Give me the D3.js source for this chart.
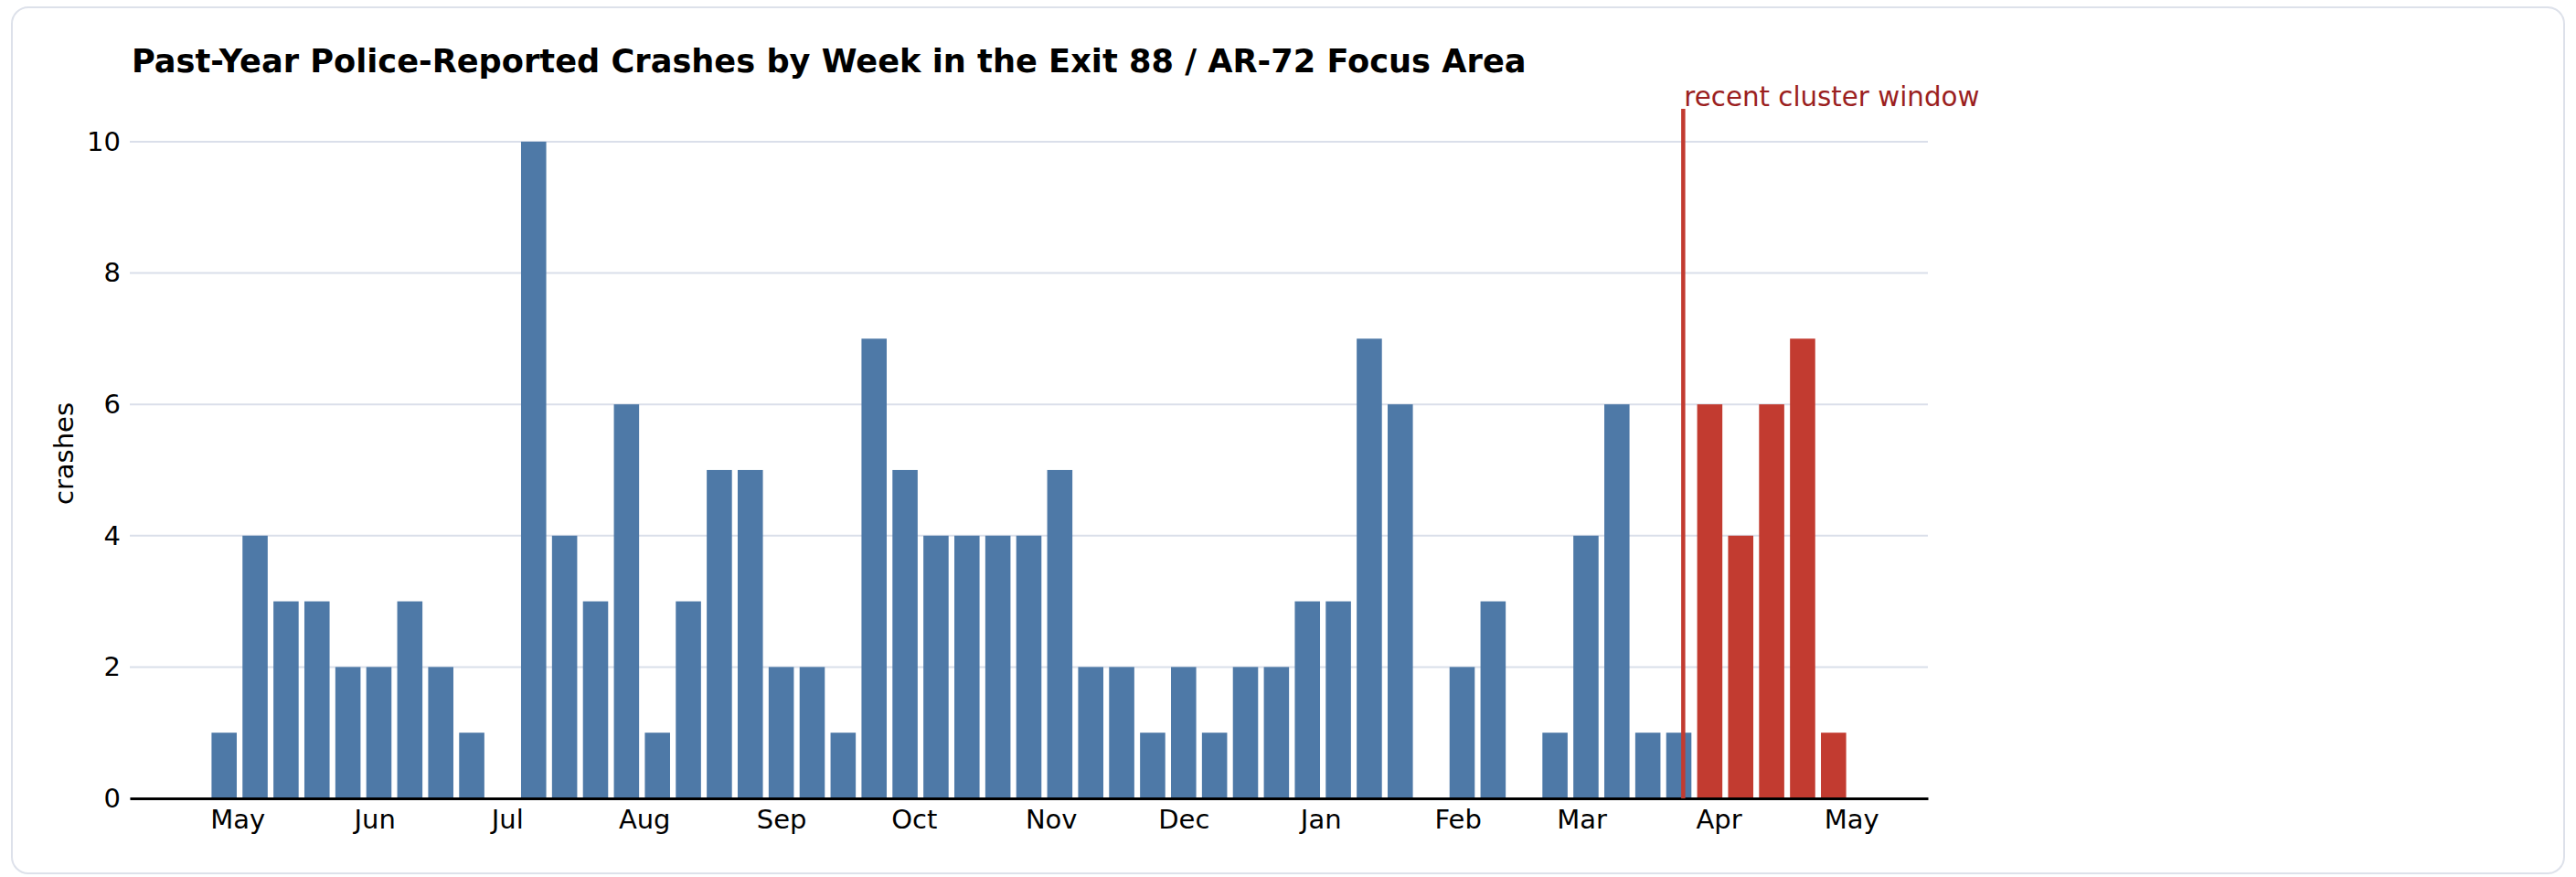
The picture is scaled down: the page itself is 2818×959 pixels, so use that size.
<!DOCTYPE html>
<html>
<head>
<meta charset="utf-8">
<script src="https://cdn.jsdelivr.net/npm/d3@7"></script>
<style>
	body { margin: 0; background: #fff; }
	svg { display: block; font-family: "DejaVu Sans", sans-serif; }
</style>
</head>
<body>
<div id="chart"></div>
<script>
// weekly buckets (week starting monday)
var weeks = [
	"2025-04-28", "2025-05-05", "2025-05-12", "2025-05-19", "2025-05-26",
	"2025-06-02", "2025-06-09", "2025-06-16", "2025-06-23", "2025-06-30",
	"2025-07-07", "2025-07-14", "2025-07-21", "2025-07-28", "2025-08-04",
	"2025-08-11", "2025-08-18", "2025-08-25", "2025-09-01", "2025-09-08",
	"2025-09-15", "2025-09-22", "2025-09-29", "2025-10-06", "2025-10-13",
	"2025-10-20", "2025-10-27", "2025-11-03", "2025-11-10", "2025-11-17",
	"2025-11-24", "2025-12-01", "2025-12-08", "2025-12-15", "2025-12-22",
	"2025-12-29", "2026-01-05", "2026-01-12", "2026-01-19", "2026-01-26",
	"2026-02-02", "2026-02-09", "2026-02-16", "2026-02-23", "2026-03-02",
	"2026-03-09", "2026-03-16", "2026-03-23", "2026-03-30", "2026-04-06",
	"2026-04-13", "2026-04-20", "2026-04-27"
];
var crashes = [
	1, 4, 3, 3, 2, 2, 3, 2, 1, 0,
	10, 4, 3, 6, 1, 3, 5, 5, 2, 2,
	1, 7, 5, 4, 4, 4, 4, 5, 2, 2,
	1, 2, 1, 2, 2, 3, 3, 7, 6, 0,
	2, 3, 0, 1, 4, 6, 1, 1, 6, 4,
	6, 7, 1
];
var yTicks = [0, 2, 4, 6, 8, 10];
var clusterStart = "2026-03-24";
var clusterLabel = "recent cluster window";
var title = "Past-Year Police-Reported Crashes by Week in the Exit 88 / AR-72 Focus Area";

var W = 2818, H = 959;
var margin = {left: 142, right: 709, top: 119, bottom: 86};
var DAY = 864e5;
var barDays = 5.7;

var parse = d3.utcParse("%Y-%m-%d");
var data = weeks.map((w, i) => ({date: parse(w), value: crashes[i]}));
var clusterDate = parse(clusterStart);

var svg = d3.select("#chart").append("svg")
	.attr("width", W)
	.attr("height", H);

// card frame
svg.append("rect")
	.attr("x", 13).attr("y", 8)
	.attr("width", W - 26).attr("height", H - 12)
	.attr("rx", 18)
	.attr("fill", "#fff")
	.attr("stroke", "#dde1ea")
	.attr("stroke-width", 2);

// matplotlib style 5% padding around the bar extent
var first = +data[0].date, last = +data[data.length - 1].date;
var span = (last - first) / DAY + barDays;
var pad = (span * 0.05 + barDays / 2) * DAY;

var x = d3.scaleUtc()
	.domain([new Date(first - pad), new Date(last + pad)])
	.range([margin.left, W - margin.right]);
var y = d3.scaleLinear()
	.domain([0, 10.5])
	.range([H - margin.bottom, margin.top]);

var barW = x(new Date(first + barDays * DAY)) - x(new Date(first));

// grid
svg.append("g")
	.selectAll("line")
	.data(yTicks)
	.enter().append("line")
	.attr("x1", margin.left).attr("x2", W - margin.right)
	.attr("y1", d => y(d)).attr("y2", d => y(d))
	.attr("stroke", "#dadfea")
	.attr("stroke-width", 2);

svg.append("g")
	.selectAll("rect")
	.data(data)
	.enter().append("rect")
	.attr("x", d => x(d.date) - barW / 2)
	.attr("width", barW)
	.attr("y", d => y(d.value))
	.attr("height", d => y(0) - y(d.value))
	.attr("fill", d => d.date > clusterDate ? "#c23b30" : "#4e79a7");

// y axis labels
var yAxis = svg.append("g")
	.attr("transform", `translate(${margin.left},0)`)
	.call(d3.axisLeft(y).tickValues(yTicks).tickSize(0).tickPadding(10));
yAxis.select(".domain").remove();
yAxis.selectAll("text")
	.attr("font-size", 29)
	.attr("font-family", "DejaVu Sans")
	.attr("fill", "#000");

// x axis, month ticks
var xAxis = svg.append("g")
	.attr("transform", `translate(0,${y(0)})`)
	.call(d3.axisBottom(x).ticks(d3.utcMonth.every(1)).tickFormat(d3.utcFormat("%b")).tickSize(0).tickPadding(12));
xAxis.select(".domain")
	.attr("stroke", "#000")
	.attr("stroke-width", 3);
xAxis.selectAll("text")
	.attr("font-size", 29)
	.attr("font-family", "DejaVu Sans")
	.attr("fill", "#000");

// cluster marker
svg.append("line")
	.attr("x1", x(clusterDate)).attr("x2", x(clusterDate))
	.attr("y1", y(0)).attr("y2", y(10.5))
	.attr("stroke", "#c23b30")
	.attr("stroke-width", 4.5);
svg.append("text")
	.attr("x", x(clusterDate) + 1)
	.attr("y", y(10.5) - 3)
	.attr("font-size", 29.3)
	.attr("fill", "#9b1f1f")
	.text(clusterLabel);

svg.append("text")
	.attr("transform", `translate(80,${(y(0) + y(10.5)) / 2}) rotate(-90)`)
	.attr("text-anchor", "middle")
	.attr("font-size", 29)
	.attr("fill", "#000")
	.text("crashes");

svg.append("text")
	.attr("x", 144)
	.attr("y", 79)
	.attr("font-size", 35.2)
	.attr("font-weight", "bold")
	.attr("fill", "#000")
	.text(title);
</script>
</body>
</html>
